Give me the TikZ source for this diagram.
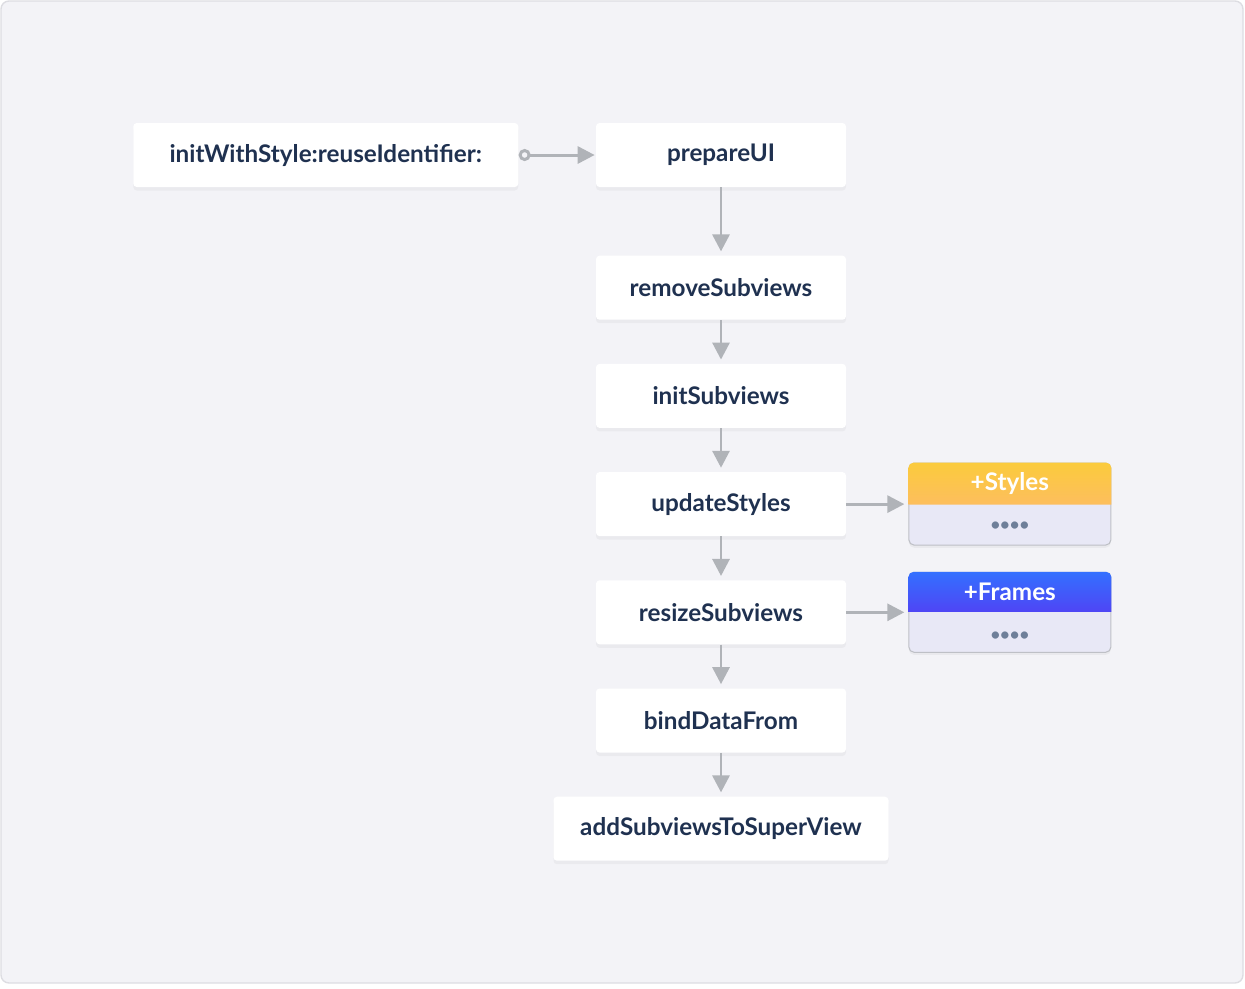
\documentclass[tikz,border=0pt]{standalone}
\usepackage{fontspec}
\setmainfont{Lato}
\usepackage{tikz}
\usetikzlibrary{arrows.meta,positioning,calc,shadows}
\definecolor{figbg}{RGB}{243,243,247}
\definecolor{figframe}{RGB}{221,221,226}
\definecolor{figtext}{RGB}{31,49,80}
\definecolor{figarrow}{RGB}{176,179,184}
\definecolor{cardbody}{RGB}{232,232,246}
\definecolor{cardedge}{RGB}{190,192,198}
\definecolor{cardtextdots}{RGB}{110,127,153}
\definecolor{styletop}{RGB}{251,203,60}
\definecolor{stylebot}{RGB}{253,190,94}
\definecolor{frametop}{RGB}{51,112,255}
\definecolor{framebot}{RGB}{79,69,245}

\begin{document}
\begin{tikzpicture}[
  font=\fontsize{13.8}{16}\selectfont\bfseries,
  box/.style={fill=white, rounded corners=2pt, align=center, text=figtext,
    inner sep=4pt, minimum width=5cm, minimum height=1.28cm,
    drop shadow={opacity=0.07, shadow xshift=0pt, shadow yshift=-2pt}},
  card/.style={fill=cardbody, draw=cardedge, line width=0.6pt, rounded corners=3pt,
    minimum width=4.04cm, minimum height=1.64cm, inner sep=0pt,
    drop shadow={opacity=0.08, shadow xshift=0pt, shadow yshift=-1.5pt}},
  cardtitle/.style={text=white, inner sep=0pt},
  dots/.style={text=cardtextdots, font=\fontsize{9.5}{10}\selectfont\bfseries, inner sep=0pt},
  arr/.style={-{Triangle[length=0.34cm, width=0.34cm]}, figarrow, line width=1.7pt,
    shorten >=0.08cm}]
  % background panel
  \useasboundingbox (0,0) rectangle (24.9,-19.76);
  \draw[fill=figbg, draw=figframe, line width=0.8pt, rounded corners=0.16cm]
    (0.02,-0.02) rectangle (24.86,-19.66);

  % call chain
  \node[box] (prep) at (14.42,-3.1) {prepareUI};
  \node[box, minimum width=7.7cm, left=1.54cm of prep] (init) {initWithStyle:reuseIdentifier:};
  \node[box, below=1.36cm of prep] (remove) {removeSubviews};
  \node[box, below=0.87cm of remove] (initsub) {initSubviews};
  \node[box, below=0.87cm of initsub] (upd) {updateStyles};
  \node[box, below=0.87cm of upd] (resize) {resizeSubviews};
  \node[box, below=0.87cm of resize] (bind) {bindDataFrom};
  \node[box, minimum width=6.7cm, below=0.87cm of bind] (addsub) {addSubviewsToSuperView};

  % side cards
  \node[card, right=1.24cm of upd] (styles) {};
  \shade[top color=styletop, bottom color=stylebot]
    ($(styles.north west)+(0,-0.84)$) [rounded corners=3pt] -- (styles.north west)
    -- (styles.north east) [sharp corners] -- ($(styles.north east)+(0,-0.84)$) -- cycle;
  \node[cardtitle] (stylesTitle) at ($(styles.north)+(0,-0.42)$) {+Styles};
  \node[dots] (stylesDots) at ($(styles.south)+(0,0.38)$) {••••};

  \node[card, minimum height=1.6cm, right=1.24cm of resize] (frames) {};
  \shade[top color=frametop, bottom color=framebot]
    ($(frames.north west)+(0,-0.8)$) [rounded corners=3pt] -- (frames.north west)
    -- (frames.north east) [sharp corners] -- ($(frames.north east)+(0,-0.8)$) -- cycle;
  \node[cardtitle] (framesTitle) at ($(frames.north)+(0,-0.4)$) {+Frames};
  \node[dots] (framesDots) at ($(frames.south)+(0,0.34)$) {••••};

  % connectors
  \draw[arr, {Circle[open, length=0.24cm, width=0.24cm]}-{Triangle[length=0.34cm, width=0.34cm]},
    shorten >=0.02cm] (init) -- (prep);
  \draw[arr] (prep) -- (remove);
  \draw[arr] (remove) -- (initsub);
  \draw[arr] (initsub) -- (upd);
  \draw[arr] (upd) -- (resize);
  \draw[arr] (resize) -- (bind);
  \draw[arr] (bind) -- (addsub);
  \draw[arr] (upd) -- (styles);
  \draw[arr] (resize) -- (frames);
\end{tikzpicture}
\end{document}
